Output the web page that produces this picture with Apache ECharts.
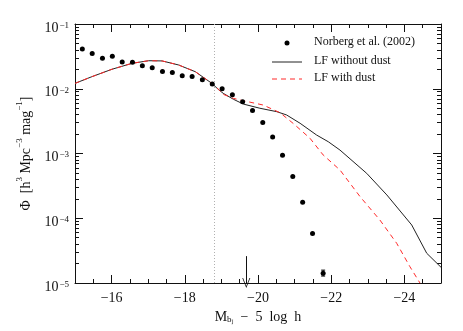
<!DOCTYPE html>
<html>
<head>
<meta charset="utf-8">
<script src="https://cdn.jsdelivr.net/npm/echarts@6/dist/echarts.min.js"></script>
<style>
  html, body { margin: 0; padding: 0; background: #fff; }
  #chart { width: 463px; height: 331px; }
</style>
</head>
<body>
<div id="chart"></div>
<script>
// data
const magObs = [-15.20, -15.47, -15.75, -16.02, -16.29, -16.57, -16.84, -17.11, -17.39, -17.66, -17.93, -18.20, -18.48,
  -18.75, -19.02, -19.30, -19.58, -19.85, -20.13, -20.40, -20.67, -20.95, -21.22, -21.49, -21.78];
const phiObs = [0.041, 0.035, 0.0295, 0.0317, 0.026, 0.0256, 0.0227, 0.0211, 0.0185, 0.0179, 0.0159, 0.0154, 0.0138,
  0.0118, 0.0100, 0.0081, 0.0063, 0.0046, 0.0030, 0.0018, 0.00094, 0.00044, 0.000177, 0.000058, 0.0000142];
// only the faintest point has a visible error bar
const errMag = [-21.78];
const errLo = [0.0000128];
const errHi = [0.0000158];

const magNoDust = [-15.0, -15.46, -16.01, -16.56, -17.01, -17.38, -17.83, -18.29, -18.74, -18.93, -19.05, -19.33, -19.60,
  -20.05, -20.51, -20.78, -21.15, -21.60, -21.92, -22.24, -22.97, -23.52, -24.20, -24.61, -25.0];
const phiNoDust = [0.0121, 0.01535, 0.0200, 0.0247, 0.0271, 0.0269, 0.0233, 0.0183, 0.0121, 0.0096, 0.0085, 0.00687, 0.0058,
  0.0050, 0.00443, 0.00394, 0.00293, 0.00193, 0.00152, 0.00113, 0.000494, 0.000229, 0.0000787, 0.0000288, 0.0000175];

const magDust = [-15.0, -15.46, -16.01, -16.56, -17.01, -17.38, -17.83, -18.29, -18.74, -18.93, -19.05, -19.33, -19.60,
  -20.14, -20.60, -20.96, -21.42, -21.78, -22.24, -22.79, -23.33, -23.79, -24.15, -24.43];
const phiDust = [0.0121, 0.01535, 0.0200, 0.0247, 0.0271, 0.0269, 0.0233, 0.0183, 0.0121, 0.0097, 0.0082, 0.0071, 0.00653,
  0.00561, 0.00427, 0.00292, 0.00172, 0.00095, 0.000556, 0.000215, 0.000094, 0.000041, 0.0000179, 0.0000099];

const xMajor = [-16, -18, -20, -22, -24];
const xMinor = [-15.5, -16.5, -17, -17.5, -18.5, -19, -19.5, -20.5, -21, -21.5, -22.5, -23, -23.5, -24.5];
const yExp = [-5, -4, -3, -2, -1];   // decades, 10^exp
const cutMag = -18.8;                // dotted line
const arrowMag = -19.68;             // arrow

const legendNames = ['Norberg et al. (2002)', 'LF without dust', 'LF with dust'];

const FONT = 'Liberation Serif';
const BLACK = '#111';
const RED = '#ff2a2a';

// minor log ticks, in log10 units
const yMinor = [];
yExp.slice(0, -1).forEach(e => {
  for (let k = 2; k <= 9; k++) yMinor.push(e + Math.log10(k));
});

const zip = (a, b) => a.map((v, i) => [v, b[i]]);
const minus = v => (v < 0 ? '\u2212' + Math.abs(v) : String(v));

const chart = echarts.init(document.getElementById('chart'), null, { renderer: 'canvas' });

function xAx(pos, ticks, len, withLabels) {
  return {
    type: 'value', min: -25, max: -15, inverse: true, position: pos,
    axisLine: { show: withLabels !== undefined, lineStyle: { color: BLACK, width: 1 } },
    axisTick: { show: true, inside: true, length: len, customValues: ticks, lineStyle: { color: BLACK } },
    axisLabel: withLabels ? {
      show: true, customValues: xMajor, formatter: minus, color: BLACK,
      fontFamily: FONT, fontSize: 14, margin: 8
    } : { show: false },
    splitLine: { show: false }
  };
}

function yAx(pos, ticks, len, withLabels) {
  return {
    type: 'value', min: -5, max: -1, position: pos,
    axisLine: { show: withLabels !== undefined, onZero: false, lineStyle: { color: BLACK, width: 1 } },
    axisTick: { show: true, inside: true, length: len, customValues: ticks, lineStyle: { color: BLACK } },
    axisLabel: withLabels ? {
      show: true, customValues: yExp, color: BLACK, margin: 6, padding: [8, 0, 0, 0],
      formatter: v => '{b|10}{s|' + minus(v) + '}',
      rich: {
        b: { fontFamily: FONT, fontSize: 14, color: BLACK, lineHeight: 14, verticalAlign: 'bottom' },
        s: { fontFamily: FONT, fontSize: 9, color: BLACK, verticalAlign: 'top', padding: [0, 0, 0, 1] }
      }
    } : { show: false },
    splitLine: { show: false }
  };
}

const option = {
  animation: false,
  backgroundColor: '#fff',
  grid: { left: 75, right: 22, top: 24, bottom: 48 },
  xAxis: [
    Object.assign(xAx('bottom', xMajor, 8, true), {
      name: 'M{sub|b\u2c7c}  \u2212  5  log  h',
      nameLocation: 'middle', nameGap: 20,
      nameTextStyle: {
        fontFamily: FONT, fontSize: 14, color: BLACK,
        rich: { sub: { fontFamily: FONT, fontSize: 9, color: BLACK, verticalAlign: 'bottom', padding: [6, 0, 0, 0] } }
      }
    }),
    xAx('bottom', xMinor, 4),
    xAx('top', xMajor, 8, false),
    xAx('top', xMinor, 4)
  ],
  yAxis: [
    // data axis: log scale, drawn by the helper axes below
    { type: 'log', logBase: 10, min: 1e-5, max: 0.1, show: false },
    Object.assign(yAx('left', yExp, 8, true), {
      name: '{n|\u03a6  [h}{s|3}{n| Mpc}{s|\u22123}{n| mag}{s|\u22121}{n|]}',
      nameLocation: 'middle', nameGap: 35,
      nameTextStyle: {
        rich: {
          n: { fontFamily: FONT, fontSize: 14, color: BLACK, lineHeight: 18, verticalAlign: 'bottom' },
          s: { fontFamily: FONT, fontSize: 9, color: BLACK, verticalAlign: 'top' }
        }
      }
    }),
    yAx('left', yMinor, 4),
    yAx('right', yExp, 8, false),
    yAx('right', yMinor, 4)
  ],
  series: [
    {
      name: legendNames[1], type: 'line', data: zip(magNoDust, phiNoDust),
      showSymbol: false, smooth: false, z: 3,
      lineStyle: { color: '#222', width: 1 }
    },
    {
      name: legendNames[2], type: 'line', data: zip(magDust, phiDust),
      showSymbol: false, smooth: false, z: 4,
      lineStyle: { color: RED, width: 1, type: [5, 4] }
    },
    {
      name: legendNames[0], type: 'scatter', data: zip(magObs, phiObs),
      symbol: 'circle', symbolSize: 5, z: 5,
      itemStyle: { color: '#000', opacity: 1 },
      markLine: {
        silent: true, animation: false,
        symbol: ['none', 'none'],
        label: { show: false },
        data: [
          { xAxis: cutMag, lineStyle: { type: [1, 2], color: '#b0b0b0', width: 1 } },
          [
            { coord: [arrowMag, 2.6e-5], symbol: 'none' },
            { coord: [arrowMag, 1.0e-5], symbol: 'path://M0,10L5,0L10,10L9,10L5,2L1,10Z', symbolSize: [8, 10] }
          ]
        ],
        lineStyle: { color: BLACK, width: 1, type: 'solid' }
      }
    },
    {
      type: 'custom', z: 5,
      data: errMag.map((m, i) => [m, errLo[i], errHi[i]]),
      renderItem: function (params, api) {
        const lo = api.coord([api.value(0), api.value(1)]);
        const hi = api.coord([api.value(0), api.value(2)]);
        const w = 2;
        const st = { stroke: '#000', lineWidth: 1 };
        return {
          type: 'group',
          children: [
            { type: 'line', shape: { x1: lo[0], y1: lo[1], x2: hi[0], y2: hi[1] }, style: st },
            { type: 'line', shape: { x1: lo[0] - w, y1: lo[1], x2: lo[0] + w, y2: lo[1] }, style: st },
            { type: 'line', shape: { x1: hi[0] - w, y1: hi[1], x2: hi[0] + w, y2: hi[1] }, style: st }
          ]
        };
      }
    }
  ],
  // legend drawn by hand to match the original's layout
  graphic: [
    { type: 'circle', shape: { cx: 287, cy: 43, r: 2.5 }, style: { fill: '#000' } },
    { type: 'text', left: 314, top: 36, style: { text: legendNames[0], font: '12px ' + FONT, fill: BLACK } },
    { type: 'line', shape: { x1: 272, y1: 62, x2: 302, y2: 62 }, style: { stroke: '#222', lineWidth: 1 } },
    { type: 'text', left: 314, top: 55, style: { text: legendNames[1], font: '12px ' + FONT, fill: BLACK } },
    { type: 'line', shape: { x1: 272, y1: 79, x2: 302, y2: 79 }, style: { stroke: RED, lineWidth: 1, lineDash: [5, 4] } },
    { type: 'text', left: 314, top: 72, style: { text: legendNames[2], font: '12px ' + FONT, fill: BLACK } }
  ]
};

chart.setOption(option);
</script>
</body>
</html>
